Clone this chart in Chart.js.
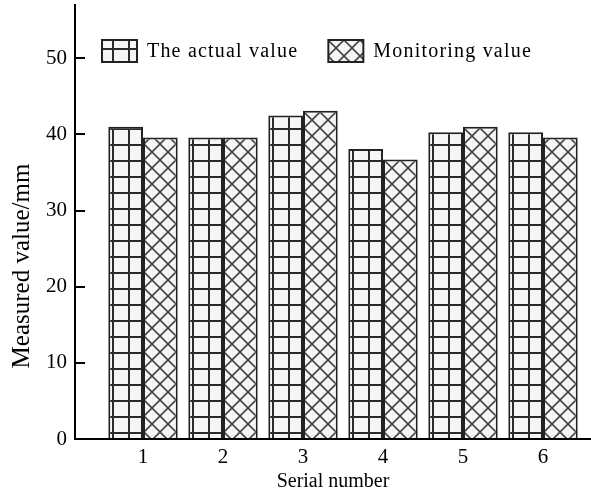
<!DOCTYPE html>
<html lang="en">
<head>
    <meta charset="UTF-8">
    <title>Measured value by serial number</title>
    <script src="https://cdn.jsdelivr.net/npm/chart.js"></script>
    <style>
        body {
            margin: 0;
            padding: 0;
            background-color: #ffffff;
        }

        #grafico {
            display: block;
        }
    </style>
</head>
<body>

<canvas id="grafico" width="591" height="491"></canvas>

<script>
    // Datos
    const serials = [1, 2, 3, 4, 5, 6];
    const actualValue = [41.0, 39.6, 42.5, 38.1, 40.3, 40.3];
    const monitoringValue = [39.6, 39.6, 43.1, 36.7, 41.0, 39.6];
    const yTicks = [0, 10, 20, 30, 40, 50];

    const FONT = "'Liberation Serif', 'Times New Roman', serif";

    // Trama de cuadricula (valor real)
    function gridPattern() {
        const c = document.createElement('canvas');
        c.width = 16;
        c.height = 16;
        const g = c.getContext('2d');
        g.fillStyle = '#f6f6f6';
        g.fillRect(0, 0, 16, 16);
        g.fillStyle = '#dcdcdc';
        [[5, 5], [11, 9], [7, 12], [12, 4]].forEach(p => g.fillRect(p[0], p[1], 1, 1));
        g.fillStyle = '#2b2b2b';
        g.fillRect(0, 0, 2, 16);
        g.fillRect(0, 0, 16, 2);
        return g.createPattern(c, 'repeat');
    }

    // Trama de rombos (valor monitorizado)
    function crossPattern() {
        const c = document.createElement('canvas');
        c.width = 16;
        c.height = 16;
        const g = c.getContext('2d');
        g.fillStyle = '#f6f6f6';
        g.fillRect(0, 0, 16, 16);
        g.fillStyle = '#dcdcdc';
        [[8, 3], [3, 8], [13, 8], [8, 13]].forEach(p => g.fillRect(p[0], p[1], 1, 1));
        g.strokeStyle = '#444';
        g.lineWidth = 1.6;
        [-16, 0, 16].forEach(d => {
            g.beginPath();
            g.moveTo(d - 2, -2);
            g.lineTo(d + 18, 18);
            g.stroke();
            g.beginPath();
            g.moveTo(d + 18, -2);
            g.lineTo(d - 2, 18);
            g.stroke();
        });
        return g.createPattern(c, 'repeat');
    }

    // Leyenda dentro del area del grafico
    const insideLegend = {
        id: 'insideLegend',
        afterDraw(chart) {
            const ctx = chart.ctx;
            const area = chart.chartArea;
            let x = area.left + 27;
            const y = area.top + 35;
            const boxW = 35, boxH = 22;
            ctx.save();
            ctx.font = '20px ' + FONT;
            if ('letterSpacing' in ctx) ctx.letterSpacing = '1.2px';
            ctx.textBaseline = 'middle';
            ctx.textAlign = 'left';
            chart.data.datasets.forEach(ds => {
                ctx.fillStyle = ds.backgroundColor;
                ctx.fillRect(x, y, boxW, boxH);
                ctx.lineWidth = 2;
                ctx.strokeStyle = '#222';
                ctx.strokeRect(x, y, boxW, boxH);
                ctx.fillStyle = '#000';
                ctx.fillText(ds.label, x + boxW + 10, y + boxH / 2 + 1);
                x += boxW + 10 + ctx.measureText(ds.label).width + 30;
            });
            ctx.restore();
        }
    };

    // Titulo del eje Y (algo desplazado hacia abajo, como en el original)
    const yTitle = {
        id: 'yTitle',
        afterDraw(chart) {
            const ctx = chart.ctx;
            const area = chart.chartArea;
            ctx.save();
            ctx.translate(area.left - 53, (area.top + area.bottom) / 2 + 44);
            ctx.rotate(-Math.PI / 2);
            ctx.font = '25px ' + FONT;
            ctx.fillStyle = '#000';
            ctx.textAlign = 'center';
            ctx.textBaseline = 'middle';
            ctx.fillText('Measured value/mm', 0, 0);
            ctx.restore();
        }
    };

    const ctx = document.getElementById('grafico').getContext('2d');
    new Chart(ctx, {
        type: 'bar',
        data: {
            datasets: [{
                label: 'The actual value',
                data: serials.map((s, i) => ({x: s, y: actualValue[i]})),
                backgroundColor: gridPattern(),
                borderColor: '#222',
                borderWidth: 2
            }, {
                label: 'Monitoring value',
                data: serials.map((s, i) => ({x: s, y: monitoringValue[i]})),
                backgroundColor: crossPattern(),
                borderColor: '#222',
                borderWidth: 2
            }]
        },
        options: {
            responsive: false,
            animation: false,
            categoryPercentage: 0.8675,
            barPercentage: 1,
            layout: {
                padding: {top: 5, left: 0, right: 0, bottom: 0}
            },
            plugins: {
                legend: {display: false},
                tooltip: {enabled: false}
            },
            scales: {
                x: {
                    type: 'linear',
                    offset: false,
                    min: 0.15,
                    max: 6.6,
                    grid: {display: false},
                    border: {display: true, color: '#000', width: 2},
                    ticks: {
                        padding: 0,
                        color: '#000',
                        font: {family: FONT, size: 21, lineHeight: 1}
                    },
                    afterBuildTicks: s => {
                        s.ticks = serials.map(v => ({value: v}));
                    },
                    afterFit: s => {
                        s.height = 52;
                        s.paddingLeft = 0;
                        s.paddingRight = 0;
                    },
                    title: {
                        display: true,
                        text: 'Serial number',
                        color: '#000',
                        padding: {top: 0, bottom: 0},
                        font: {family: FONT, size: 20, lineHeight: 0.9}
                    }
                },
                y: {
                    min: 0,
                    max: 57,
                    border: {display: true, color: '#000', width: 2},
                    grid: {
                        display: true,
                        drawOnChartArea: false,
                        drawTicks: true,
                        tickLength: -10,
                        color: '#000',
                        lineWidth: 2
                    },
                    ticks: {
                        stepSize: 10,
                        includeBounds: false,
                        padding: 18,
                        color: '#000',
                        font: {family: FONT, size: 21}
                    },
                    afterBuildTicks: s => {
                        s.ticks = yTicks.map(v => ({value: v}));
                    },
                    afterFit: s => {
                        s.width = 75;
                        s.paddingTop = 0;
                        s.paddingBottom = 0;
                    }
                }
            }
        },
        plugins: [insideLegend, yTitle]
    });
</script>

</body>
</html>
